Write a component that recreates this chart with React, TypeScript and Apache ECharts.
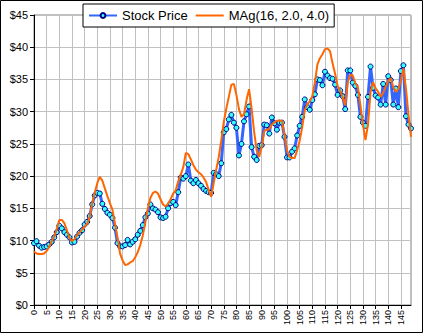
import React, { useEffect, useRef } from "react";
import * as echarts from "echarts";

const categories: string[] = Array.from({ length: 150 }, (_, i) => String(i));

const stockPrice: number[] = [
  9.6, 9.9, 9.2, 8.9, 9.0, 9.1, 9.4, 9.8, 10.5, 11.3,
  12.3, 11.9, 11.3, 10.9, 10.5, 9.7, 9.8, 10.6, 11.2, 11.6,
  12.5, 12.9, 13.8, 15.6, 17.0, 17.4, 17.3, 15.7, 14.9, 14.3,
  14.0, 13.5, 12.0, 9.6, 9.1, 9.1, 9.3, 10.1, 9.4, 9.8,
  10.2, 10.9, 11.5, 12.4, 13.6, 14.2, 15.6, 15.0, 14.8, 14.4,
  13.6, 13.5, 13.7, 15.0, 15.8, 16.0, 15.5, 17.5, 19.8, 19.6,
  20.0, 21.8, 19.3, 18.9, 19.4, 18.9, 18.5, 18.0, 17.7, 17.5,
  17.4, 20.5, 20.3, 20.0, 22.0, 26.8, 27.3, 28.8, 29.5, 28.3,
  27.5, 23.2, 25.0, 28.5, 29.6, 30.8, 24.5, 23.0, 22.5, 24.7,
  24.8, 28.0, 27.9, 26.6, 29.1, 28.2, 27.2, 28.3, 28.3, 26.1,
  22.9, 22.9, 23.8, 24.3, 26.3, 27.8, 29.2, 31.9, 30.7, 30.3,
  31.8, 32.7, 35.0, 34.9, 34.1, 36.2, 35.6, 35.2, 35.1, 34.2,
  32.6, 33.3, 32.4, 30.4, 36.4, 36.4, 34.5, 34.0, 32.6, 29.2,
  28.3, 27.8, 32.3, 37.0, 33.7, 32.5, 32.2, 31.1, 34.3, 31.1,
  35.5, 34.9, 31.1, 33.6, 30.7, 36.3, 37.2, 29.3, 28.0, 27.4,
];

const mag: number[] = [
  8.3, 8.0, 7.9, 7.9, 8.0, 8.4, 9.0, 9.9, 10.6, 11.8,
  13.2, 13.2, 12.7, 11.6, 10.4, 9.9, 10.2, 10.8, 11.3, 11.7,
  12.2, 12.6, 13.6, 15.8, 17.4, 18.9, 19.9, 19.3, 18.1, 16.9,
  15.8, 14.8, 12.6, 10.5, 8.0, 6.9, 6.2, 6.3, 6.6, 6.8,
  7.4, 8.2, 9.3, 10.8, 12.8, 15.0, 16.6, 17.4, 17.6, 17.3,
  16.4, 15.6, 15.3, 15.7, 16.4, 17.3, 17.8, 19.2, 20.2, 21.4,
  23.6, 23.4, 22.6, 21.7, 21.0, 20.6, 20.3, 19.8, 19.1, 17.9,
  16.8, 18.9, 21.0, 22.9, 25.5, 28.4, 30.5, 32.3, 34.2, 34.3,
  32.6, 30.4, 29.2, 29.6, 31.8, 33.5, 30.5, 26.9, 24.0, 23.0,
  24.5, 27.0, 27.2, 27.3, 28.0, 28.3, 28.6, 28.6, 28.6, 26.4,
  24.0, 23.0, 22.8, 22.8, 24.0, 25.5, 27.6, 30.2, 31.2, 31.6,
  32.4, 34.5, 37.3, 38.3, 38.9, 39.7, 39.8, 39.4, 37.5, 35.9,
  34.0, 33.2, 32.2, 31.0, 34.6, 35.7, 35.6, 34.4, 33.8, 31.0,
  28.0, 25.6, 28.0, 33.0, 34.6, 33.6, 33.1, 32.3, 32.9, 33.9,
  34.8, 35.2, 33.8, 33.1, 33.5, 34.8, 36.7, 33.6, 29.5, 26.1,
];

const seriesNames: string[] = ["Stock Price", "MAg(16, 2.0, 4.0)"];

const FONT = "'Liberation Sans', Arial, sans-serif";

export default function App() {
  const ref = useRef<HTMLDivElement>(null);

  useEffect(() => {
    document.body.style.margin = "0";
    if (!ref.current) return;
    const chart = echarts.init(ref.current, undefined, { renderer: "svg" });
    chart.setOption({
      animation: false,
      backgroundColor: "#ffffff",
      textStyle: { fontFamily: FONT },
      graphic: [
        {
          type: "rect",
          shape: { x: 0.5, y: 0.5, width: 422, height: 332 },
          style: { fill: "none", stroke: "#000000", lineWidth: 1 },
          silent: true,
          z: 100,
        },
      ],
      legend: {
        left: 83,
        top: 4,
        padding: [5, 5, 5, 5],
        itemGap: 7,
        itemWidth: 28,
        itemHeight: 6,
        borderColor: "#000000",
        borderWidth: 1,
        borderRadius: 0,
        backgroundColor: "#ffffff",
        textStyle: { fontFamily: FONT, fontSize: 13, color: "#000000" },
        data: [
          { name: seriesNames[0] },
          { name: seriesNames[1], itemStyle: { opacity: 0 } },
        ],
        z: 10,
      },
      grid: {
        left: 34,
        top: 15,
        right: 12,
        bottom: 28,
        show: true,
        borderColor: "#808080",
        borderWidth: 1,
        backgroundColor: "#ffffff",
      },
      xAxis: {
        type: "category",
        data: categories,
        boundaryGap: false,
        axisLine: { lineStyle: { color: "#000000", width: 1 } },
        axisTick: { show: true, interval: 4, length: 4, lineStyle: { color: "#000000" } },
        axisLabel: {
          interval: 4,
          rotate: 90,
          fontSize: 9,
          color: "#000000",
          fontFamily: FONT,
          margin: 5,
        },
        splitLine: { show: true, interval: 4, lineStyle: { color: "#C0C0C0", width: 1 } },
      },
      yAxis: {
        type: "value",
        min: 0,
        max: 45,
        interval: 5,
        axisLine: { show: true, lineStyle: { color: "#000000", width: 1 } },
        axisTick: { show: true, length: 4, lineStyle: { color: "#000000" } },
        axisLabel: {
          formatter: (v: number) => "$" + v,
          fontSize: 11,
          color: "#000000",
          fontFamily: FONT,
          margin: 6,
        },
        splitLine: { show: true, lineStyle: { color: "#C0C0C0", width: 1 } },
      },
      series: [
        {
          name: seriesNames[0],
          type: "line",
          data: stockPrice,
          symbol: "circle",
          symbolSize: 5,
          showSymbol: true,
          showAllSymbol: true,
          lineStyle: { color: "#3366FF", width: 3 },
          itemStyle: { color: "#33FFFF", borderColor: "#000080", borderWidth: 1 },
          z: 2,
        },
        {
          name: seriesNames[1],
          type: "line",
          data: mag,
          symbol: "none",
          showSymbol: false,
          lineStyle: { color: "#FF6600", width: 2 },
          itemStyle: { color: "#FF6600" },
          z: 3,
        },
      ],
    });
    return () => chart.dispose();
  }, []);

  return <div ref={ref} style={{ width: 423, height: 333 }} />;
}
